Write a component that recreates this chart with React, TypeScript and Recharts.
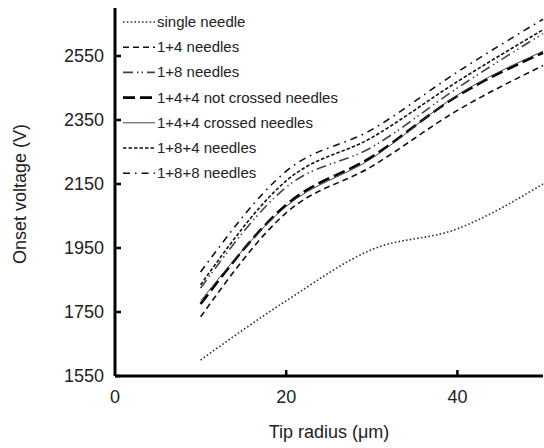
import React from 'react';
import { LineChart, Line, XAxis, YAxis, Legend } from 'recharts';

const tipRadius = [10, 20, 30, 40, 50];
const singleNeedle = [1600, 1785, 1945, 2010, 2150];
const needles1p4 = [1735, 2060, 2205, 2380, 2520];
const needles1p8 = [1825, 2140, 2265, 2450, 2620];
const needles144NotCrossed = [1775, 2085, 2235, 2425, 2560];
const needles144Crossed = [1785, 2080, 2230, 2428, 2565];
const needles184 = [1835, 2160, 2295, 2470, 2632];
const needles188 = [1875, 2190, 2320, 2500, 2665];

const xTicks = [0, 20, 40];
const yTicks = [1550, 1750, 1950, 2150, 2350, 2550];

const series = [
  { key: 's1', name: 'single needle', values: singleNeedle, color: '#333', width: 1.6, dash: '1.6 2.2' },
  { key: 's2', name: '1+4 needles', values: needles1p4, color: '#111', width: 1.6, dash: '6 4' },
  { key: 's3', name: '1+8 needles', values: needles1p8, color: '#444', width: 1.6, dash: '10 4 1.5 3 1.5 4' },
  { key: 's4', name: '1+4+4 not crossed needles', values: needles144NotCrossed, color: '#000', width: 2.6, dash: '12 5' },
  { key: 's5', name: '1+4+4 crossed needles', values: needles144Crossed, color: '#444', width: 1, dash: undefined },
  { key: 's6', name: '1+8+4 needles', values: needles184, color: '#111', width: 1.6, dash: '3.5 2' },
  { key: 's7', name: '1+8+8 needles', values: needles188, color: '#111', width: 1.6, dash: '7 5 1.6 5' },
];

const data = tipRadius.map((x, i) => {
  const row: Record<string, number> = { x };
  series.forEach((s) => {
    row[s.key] = s.values[i];
  });
  return row;
});

const FONT = '"Liberation Sans", Arial, sans-serif';

const YTick = (props: any) => {
  const { x, y, payload } = props;
  return (
    <g>
      <line x1={x + 11} x2={x + 17} y1={y} y2={y} stroke="#000" strokeWidth={2.5} />
      <text x={x} y={y} dy={6} textAnchor="end" fontSize={18} fill="#222" fontFamily={FONT}>
        {payload.value}
      </text>
    </g>
  );
};

const XTick = (props: any) => {
  const { x, y, payload } = props;
  return (
    <g>
      {payload.value !== 0 && (
        <line x1={x} x2={x} y1={y - 10} y2={y - 16} stroke="#000" strokeWidth={2.5} />
      )}
      <text x={x} y={y} dy={17} textAnchor="middle" fontSize={18} fill="#222" fontFamily={FONT}>
        {payload.value}
      </text>
    </g>
  );
};

const LegendContent = () => (
  <svg width={260} height={180} style={{ display: 'block', overflow: 'visible' }}>
    {series.map((s, i) => (
      <g key={s.key}>
        <line
          x1={0}
          x2={32}
          y1={12 + i * 25.2}
          y2={12 + i * 25.2}
          stroke={s.color}
          strokeWidth={s.width}
          strokeDasharray={s.dash}
        />
        <text x={34} y={12 + i * 25.2} dy={5} fontSize={15} fill="#222" fontFamily={FONT}>
          {s.name}
        </text>
      </g>
    ))}
  </svg>
);

export default function App() {
  return (
    <div style={{ position: 'absolute', left: 0, top: 0, width: 544, height: 448, background: '#fff' }}>
      <LineChart
        width={544}
        height={448}
        data={data}
        margin={{ top: 8, right: 1, bottom: 0, left: 0 }}
      >
        <XAxis
          dataKey="x"
          type="number"
          domain={[0, 50]}
          ticks={xTicks}
          height={72}
          tickLine={false}
          tickSize={0}
          tickMargin={10}
          axisLine={{ stroke: '#000', strokeWidth: 3 }}
          tick={<XTick />}
          label={{ value: 'Tip radius (μm)', position: 'insideBottom', offset: 10, fontSize: 18, fill: '#222', fontFamily: FONT }}
        />
        <YAxis
          type="number"
          domain={[1550, 2700]}
          ticks={yTicks}
          width={115}
          tickLine={false}
          tickSize={0}
          tickMargin={11}
          axisLine={{ stroke: '#000', strokeWidth: 3 }}
          tick={<YTick />}
          allowDataOverflow
          label={{ value: 'Onset voltage (V)', angle: -90, position: 'insideLeft', offset: 20, dy: 72, fontSize: 18, fill: '#222', fontFamily: FONT }}
        />
        <XAxis xAxisId="top" orientation="top" dataKey="x" type="number" domain={[0, 50]} height={0} tick={false} tickLine={false} axisLine={{ stroke: '#000', strokeWidth: 3 }} />
        <YAxis yAxisId="right" orientation="right" domain={[1550, 2700]} width={0} tick={false} tickLine={false} axisLine={{ stroke: '#888', strokeWidth: 1 }} />
        {series.map((s) => (
          <Line
            key={s.key}
            dataKey={s.key}
            name={s.name}
            type="monotone"
            stroke={s.color}
            strokeWidth={s.width}
            strokeDasharray={s.dash}
            dot={false}
            activeDot={false}
            isAnimationActive={false}
          />
        ))}
        <Legend
          layout="horizontal"
          verticalAlign="top"
          align="left"
          content={<LegendContent />}
          wrapperStyle={{ left: 123, top: 10, width: 260, height: 0, overflow: 'visible' }}
        />
      </LineChart>
    </div>
  );
}
